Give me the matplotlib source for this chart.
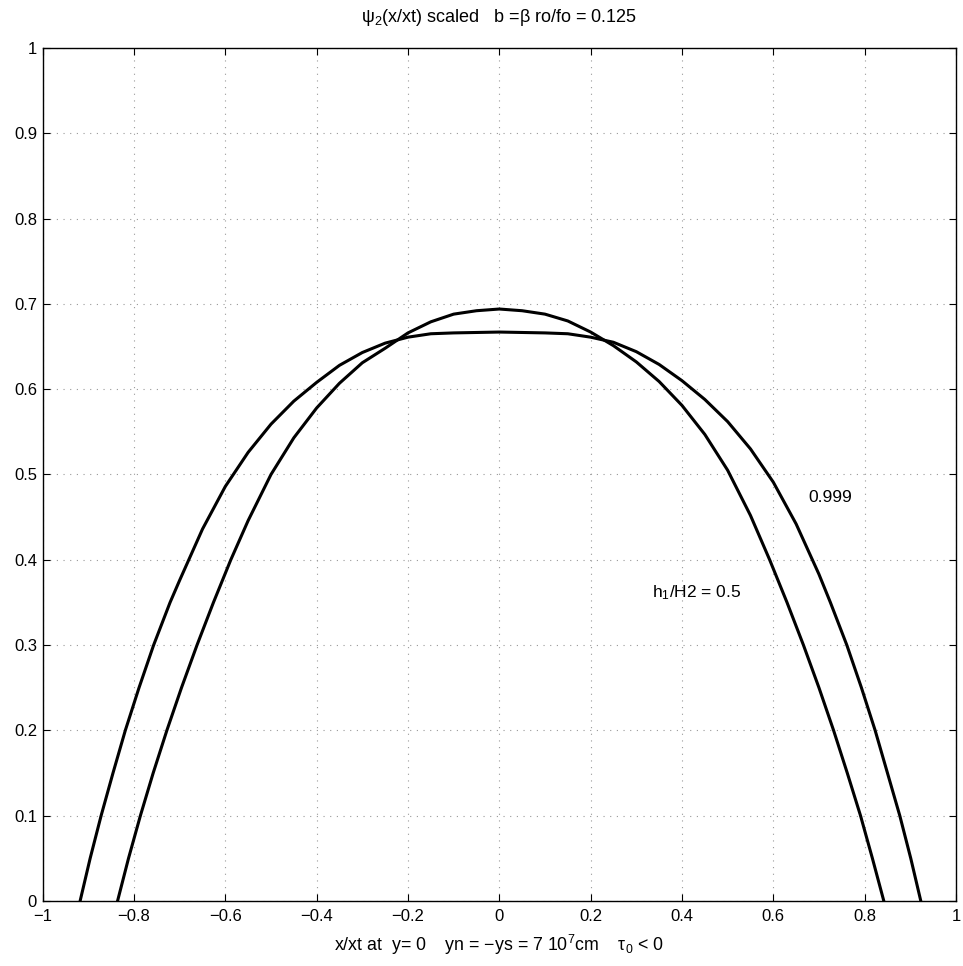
import matplotlib
matplotlib.use("Agg")
import matplotlib.pyplot as plt

plt.rcParams['font.family'] = ['Liberation Sans', 'DejaVu Sans']
plt.rcParams['mathtext.default'] = 'regular'

# outer curve (label 0.999)
x_999 = [-0.918, -0.896, -0.872, -0.846, -0.819, -0.789, -0.757, -0.721, -0.700,
         -0.650, -0.600, -0.550, -0.500, -0.450, -0.400, -0.350, -0.300, -0.250,
         -0.200, -0.150, -0.100, 0.000,
         0.100, 0.150, 0.200, 0.250, 0.300, 0.350, 0.400, 0.450, 0.500,
         0.550, 0.600, 0.650, 0.700, 0.725, 0.761, 0.793, 0.823, 0.850,
         0.877, 0.901, 0.923]
y_999 = [0.000, 0.050, 0.100, 0.150, 0.200, 0.250, 0.300, 0.350, 0.376,
         0.436, 0.486, 0.526, 0.559, 0.586, 0.608, 0.628, 0.643, 0.654,
         0.661, 0.665, 0.666, 0.667,
         0.666, 0.665, 0.661, 0.655, 0.644, 0.629, 0.610, 0.588, 0.562,
         0.530, 0.491, 0.442, 0.383, 0.350, 0.300, 0.250, 0.200, 0.150,
         0.100, 0.050, 0.000]

# inner curve (h1/H2 = 0.5)
x_05 = [-0.836, -0.812, -0.786, -0.758, -0.728, -0.696, -0.662, -0.626, -0.588,
        -0.550, -0.500, -0.450, -0.400, -0.350, -0.300, -0.250, -0.200, -0.150,
        -0.100, -0.050, 0.000,
        0.050, 0.100, 0.150, 0.200, 0.250, 0.300, 0.350, 0.400, 0.450,
        0.500, 0.550, 0.592, 0.630, 0.666, 0.700, 0.732, 0.762, 0.791,
        0.817, 0.842]
y_05 = [0.000, 0.050, 0.100, 0.150, 0.200, 0.250, 0.300, 0.350, 0.400,
        0.446, 0.500, 0.543, 0.578, 0.607, 0.631, 0.648, 0.666, 0.679,
        0.688, 0.692, 0.694,
        0.692, 0.688, 0.680, 0.667, 0.651, 0.632, 0.609, 0.581, 0.547,
        0.505, 0.452, 0.400, 0.350, 0.300, 0.250, 0.200, 0.150, 0.100,
        0.050, 0.000]

xticks = [-1, -0.8, -0.6, -0.4, -0.2, 0, 0.2, 0.4, 0.6, 0.8, 1]
xtick_labels = ['\u22121', '\u22120.8', '\u22120.6', '\u22120.4', '\u22120.2', '0',
                '0.2', '0.4', '0.6', '0.8', '1']
yticks = [0, 0.1, 0.2, 0.3, 0.4, 0.5, 0.6, 0.7, 0.8, 0.9, 1]
ytick_labels = ['0', '0.1', '0.2', '0.3', '0.4', '0.5', '0.6', '0.7', '0.8', '0.9', '1']

fig = plt.figure(figsize=(9.63, 9.66), dpi=100)
ax = fig.add_axes([0.0443, 0.0673, 0.9484, 0.883])

ax.plot(x_999, y_999, color='black', linewidth=2.2, solid_joinstyle='round')
ax.plot(x_05, y_05, color='black', linewidth=2.2, solid_joinstyle='round')

ax.set_xlim(-1, 1)
ax.set_ylim(0, 1)
ax.set_xticks(xticks)
ax.set_xticklabels(xtick_labels)
ax.set_yticks(yticks)
ax.set_yticklabels(ytick_labels)
ax.tick_params(direction='in', top=True, right=True, length=5, labelsize=12)
ax.tick_params(axis='x', pad=6)
ax.tick_params(axis='y', pad=4)
ax.grid(True, linestyle=(0, (1, 5)), color='#999999', linewidth=0.8)
for s in ax.spines.values():
    s.set_linewidth(1.0)

ax.text(0.676, 0.468, '0.999', fontsize=12.5)
ax.text(0.334, 0.356, 'h$_1$/H2 = 0.5', fontsize=12.5)

ax.set_title('\u03c8$_2$(x/xt) scaled   b =\u03b2 ro/fo = 0.125', fontsize=13, pad=19)
ax.set_xlabel('x/xt at  y= 0    yn = \u2212ys = 7 10$^7$cm    \u03c4$_0$ < 0',
              fontsize=12.8, labelpad=6)

fig.savefig('out.png', dpi=100)
